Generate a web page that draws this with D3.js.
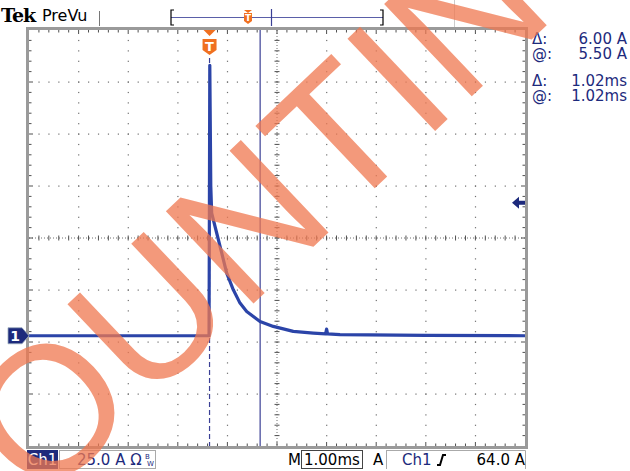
<!DOCTYPE html>
<html>
<head>
<meta charset="utf-8">
<script src="https://cdn.jsdelivr.net/npm/d3@7"></script>
<style>
  body { margin: 0; background: #fff; }
  svg { display: block; font-family: "DejaVu Sans", sans-serif; }
</style>
</head>
<body>
<div id="scope"></div>
<script>
// screen settings
const divsX = 10;
const divsY = 8;
const msPerDiv = 1.0;
const ampPerDiv = 25.0;
const groundDiv = -1.88;   // channel 1 zero level, divisions from centre
const triggerMs = 3.64;
const cursorMs = [3.64, 4.66];
const triggerLevelA = 64.0;

// trace of channel 1
const timeMs = [0, 3.63, 3.645, 3.652, 3.665, 3.683, 3.784, 3.885, 3.986, 4.119, 4.254, 4.389,
                4.657, 4.925, 5.329, 5.732, 5.98, 6.0, 6.02, 6.27, 8.0, 10];
const currentA = [0, 0, 130, 110, 72, 59, 49.4, 39.8, 30.1, 22.1, 15.7, 11.7,
                  6.9, 4.5, 2.1, 1.3, 0.9, 3.2, 0.9, 0.5, 0.2, 0];

// readouts
const readLabels = ["\u0394:", "@:", "\u0394:", "@:"];
const readValues = ["6.00 A", "5.50 A", "1.02ms", "1.02ms"];

const W = 630, H = 471;
const pL = 29, pR = 525, pT = 30, pB = 446;
const navy = "#1d2a7c";
const orange = "#f07020";

const svg = d3.select("#scope").append("svg")
  .attr("width", W).attr("height", H);

const x = d3.scaleLinear().domain([0, divsX * msPerDiv]).range([pL, pR]);
const y = d3.scaleLinear()
  .domain([(-divsY / 2 - groundDiv) * ampPerDiv, (divsY / 2 - groundDiv) * ampPerDiv])
  .range([pB, pT]);

const divW = (pR - pL) / divsX;
const divH = (pB - pT) / divsY;

// frame
svg.append("rect")
  .attr("x", pL - 1.5).attr("y", pT - 1.5)
  .attr("width", pR - pL + 3).attr("height", pB - pT + 3)
  .attr("fill", "none").attr("stroke", "#9a9a9a").attr("stroke-width", 3);

const grid = svg.append("g").attr("fill", "#707070");

// dotted graticule
for (let i = 1; i < divsX; i++) {
  const gx = pL + i * divW;
  if (i === divsX / 2) continue;
  d3.range(1, divsY * 5).forEach(k => {
    grid.append("rect").attr("x", gx - 0.5).attr("y", pT + k * divH / 5 - 0.5)
      .attr("width", 1.2).attr("height", 1.2);
  });
}
for (let j = 1; j < divsY; j++) {
  const gy = pT + j * divH;
  if (j === divsY / 2) continue;
  d3.range(1, divsX * 5).forEach(k => {
    grid.append("rect").attr("x", pL + k * divW / 5 - 0.5).attr("y", gy - 0.5)
      .attr("width", 1.2).attr("height", 1.2);
  });
}

// centre cross with minor ticks
const cx = pL + divW * divsX / 2, cy = pT + divH * divsY / 2;
svg.append("line").attr("x1", pL).attr("x2", pR).attr("y1", cy).attr("y2", cy)
  .attr("stroke", "#707070").attr("stroke-dasharray", "1,2");
svg.append("line").attr("x1", cx).attr("x2", cx).attr("y1", pT).attr("y2", pB)
  .attr("stroke", "#707070").attr("stroke-dasharray", "1,2");

const ticks = svg.append("g").attr("stroke", "#505050").attr("stroke-width", 1);
d3.range(1, divsX * 5).forEach(k => {
  const tx = pL + k * divW / 5;
  const len = k % 5 === 0 ? 4 : 2.5;
  ticks.append("line").attr("x1", tx).attr("x2", tx).attr("y1", cy - 2.5).attr("y2", cy + 2.5);
  ticks.append("line").attr("x1", tx).attr("x2", tx).attr("y1", pT).attr("y2", pT + len);
  ticks.append("line").attr("x1", tx).attr("x2", tx).attr("y1", pB).attr("y2", pB - len);
});
d3.range(1, divsY * 5).forEach(k => {
  const ty = pT + k * divH / 5;
  const len = k % 5 === 0 ? 4 : 2.5;
  ticks.append("line").attr("y1", ty).attr("y2", ty).attr("x1", cx - 2.5).attr("x2", cx + 2.5);
  ticks.append("line").attr("y1", ty).attr("y2", ty).attr("x1", pL).attr("x2", pL + len);
  ticks.append("line").attr("y1", ty).attr("y2", ty).attr("x1", pR).attr("x2", pR - len);
});

// cursors
svg.append("line")
  .attr("x1", x(cursorMs[0])).attr("x2", x(cursorMs[0]))
  .attr("y1", 58).attr("y2", pB)
  .attr("stroke", "#3a3f95").attr("stroke-width", 1.2).attr("stroke-dasharray", "5,3");
svg.append("line")
  .attr("x1", x(cursorMs[1])).attr("x2", x(cursorMs[1]))
  .attr("y1", pT).attr("y2", pB)
  .attr("stroke", "#3a3f95").attr("stroke-width", 1.2);

// trace
const line = d3.line().x((d, i) => x(timeMs[i])).y(d => y(d));
svg.append("path")
  .datum(currentA)
  .attr("d", line)
  .attr("fill", "none")
  .attr("stroke", "#2b44a8")
  .attr("stroke-width", 3.2)
  .attr("stroke-linejoin", "round");

// trigger marker on top
const tx0 = x(triggerMs);
svg.append("path")
  .attr("d", `M${tx0 - 6},${pT} L${tx0 + 6},${pT} L${tx0},${pT + 6} Z`)
  .attr("fill", orange);
svg.append("path")
  .attr("d", `M${tx0 - 7},${pT + 9} h14 v11 l-7,5 l-7,-5 Z`)
  .attr("fill", orange);
svg.append("text").attr("x", tx0).attr("y", pT + 21)
  .attr("text-anchor", "middle").attr("fill", "#fff")
  .attr("font-size", 13).attr("font-weight", "bold").text("T");

// trigger level arrow on right
const ty0 = y(triggerLevelA);
svg.append("path")
  .attr("d", `M${pR - 13},${ty0} l7,-6 v4 h6 v4 h-6 v4 Z`)
  .attr("fill", navy);

// ground marker
const gy0 = y(0);
svg.append("path")
  .attr("d", `M8,${gy0 - 8} h14 l7,8 l-7,8 h-14 Z`)
  .attr("fill", navy).attr("stroke", "#9ab").attr("stroke-width", 0.8);
svg.append("text").attr("x", 15).attr("y", gy0 + 5.5)
  .attr("text-anchor", "middle").attr("fill", "#fff")
  .attr("font-size", 14).attr("font-weight", "bold").text("1");

// header
svg.append("text").attr("x", 1).attr("y", 22)
  .attr("font-family", "'DejaVu Serif', serif").attr("font-weight", "bold")
  .attr("font-size", 19).attr("fill", "#000").attr("letter-spacing", -1).text("Tek");
svg.append("text").attr("x", 42).attr("y", 21)
  .attr("font-size", 16).attr("fill", "#000").text("PreVu");
svg.append("line").attr("x1", 99.5).attr("x2", 99.5).attr("y1", 11).attr("y2", 26)
  .attr("stroke", "#777").attr("stroke-width", 1);
svg.append("line").attr("x1", 454.5).attr("x2", 454.5).attr("y1", 0).attr("y2", 27)
  .attr("stroke", "#ccc").attr("stroke-width", 1);

// record view bar
svg.append("line").attr("x1", 171).attr("x2", 383).attr("y1", 17.5).attr("y2", 17.5)
  .attr("stroke", "#5a5fa8").attr("stroke-width", 1.2);
svg.append("path").attr("d", "M174,10 h-3 v15 h3").attr("fill", "none").attr("stroke", "#000").attr("stroke-width", 1.2);
svg.append("path").attr("d", "M380,10 h3 v15 h-3").attr("fill", "none").attr("stroke", "#000").attr("stroke-width", 1.2);
svg.append("line").attr("x1", 271.5).attr("x2", 271.5).attr("y1", 9).attr("y2", 26)
  .attr("stroke", "#3a3f95").attr("stroke-width", 1.2);
const bt = 248;
svg.append("path").attr("d", `M${bt - 4},10 h8 l-4,3 Z`).attr("fill", orange);
svg.append("path").attr("d", `M${bt - 4},13 h8 v8 l-4,3 l-4,-3 Z`).attr("fill", orange);
svg.append("text").attr("x", bt).attr("y", 21).attr("text-anchor", "middle")
  .attr("fill", "#fff").attr("font-size", 9).attr("font-weight", "bold").text("T");

// readouts
const rowY = [44, 59, 86, 101];
readLabels.forEach((t, i) => {
  svg.append("text").attr("x", 532).attr("y", rowY[i])
    .attr("font-size", 15).attr("fill", navy).text(t);
  svg.append("text").attr("x", 627).attr("y", rowY[i]).attr("text-anchor", "end")
    .attr("font-size", 15).attr("fill", navy).text(readValues[i]);
});

// bottom status bar
svg.append("rect").attr("x", 27).attr("y", 450).attr("width", 31).attr("height", 19).attr("fill", navy);
svg.append("text").attr("x", 42.5).attr("y", 465).attr("text-anchor", "middle")
  .attr("fill", "#fff").attr("font-size", 15).text("Ch1");
svg.append("rect").attr("x", 59.5).attr("y", 450.5).attr("width", 96).attr("height", 18)
  .attr("fill", "none").attr("stroke", "#aaa");
svg.append("text").attr("x", 77).attr("y", 465).attr("fill", navy).attr("font-size", 15)
  .text(ampPerDiv.toFixed(1) + " A \u03A9");
svg.append("text").attr("x", 145).attr("y", 459).attr("fill", navy).attr("font-size", 7).text("B");
svg.append("text").attr("x", 147).attr("y", 466).attr("fill", navy).attr("font-size", 7).text("W");

svg.append("text").attr("x", 288).attr("y", 465).attr("fill", "#000").attr("font-size", 15).text("M");
svg.append("rect").attr("x", 301.5).attr("y", 450.5).attr("width", 61).attr("height", 18)
  .attr("fill", "none").attr("stroke", "#444");
svg.append("text").attr("x", 304).attr("y", 465).attr("fill", "#000").attr("font-size", 15)
  .text(msPerDiv.toFixed(2) + "ms");
svg.append("text").attr("x", 373).attr("y", 465).attr("fill", "#000").attr("font-size", 15).text("A");
svg.append("path").attr("d", "M386.5,450 v19 M386.5,450.5 H525.5 V469")
  .attr("fill", "none").attr("stroke", "#aaa");
svg.append("text").attr("x", 402).attr("y", 465).attr("fill", navy).attr("font-size", 15).text("Ch1");
svg.append("path").attr("d", "M437,465 h3 l3,-10 h3")
  .attr("fill", "none").attr("stroke", "#000").attr("stroke-width", 2);
svg.append("text").attr("x", 525).attr("y", 465).attr("text-anchor", "end")
  .attr("fill", "#000").attr("font-size", 15).text(triggerLevelA.toFixed(1) + " A");

// watermark
svg.append("text")
  .attr("transform", "translate(-58,599) rotate(-43.5)")
  .attr("font-family", "'Liberation Sans', sans-serif")
  .attr("font-size", 185)
  .attr("fill", "#f07850")
  .attr("opacity", 0.75)
  .attr("letter-spacing", 1)
  .text("COUNTING");
</script>
</body>
</html>
